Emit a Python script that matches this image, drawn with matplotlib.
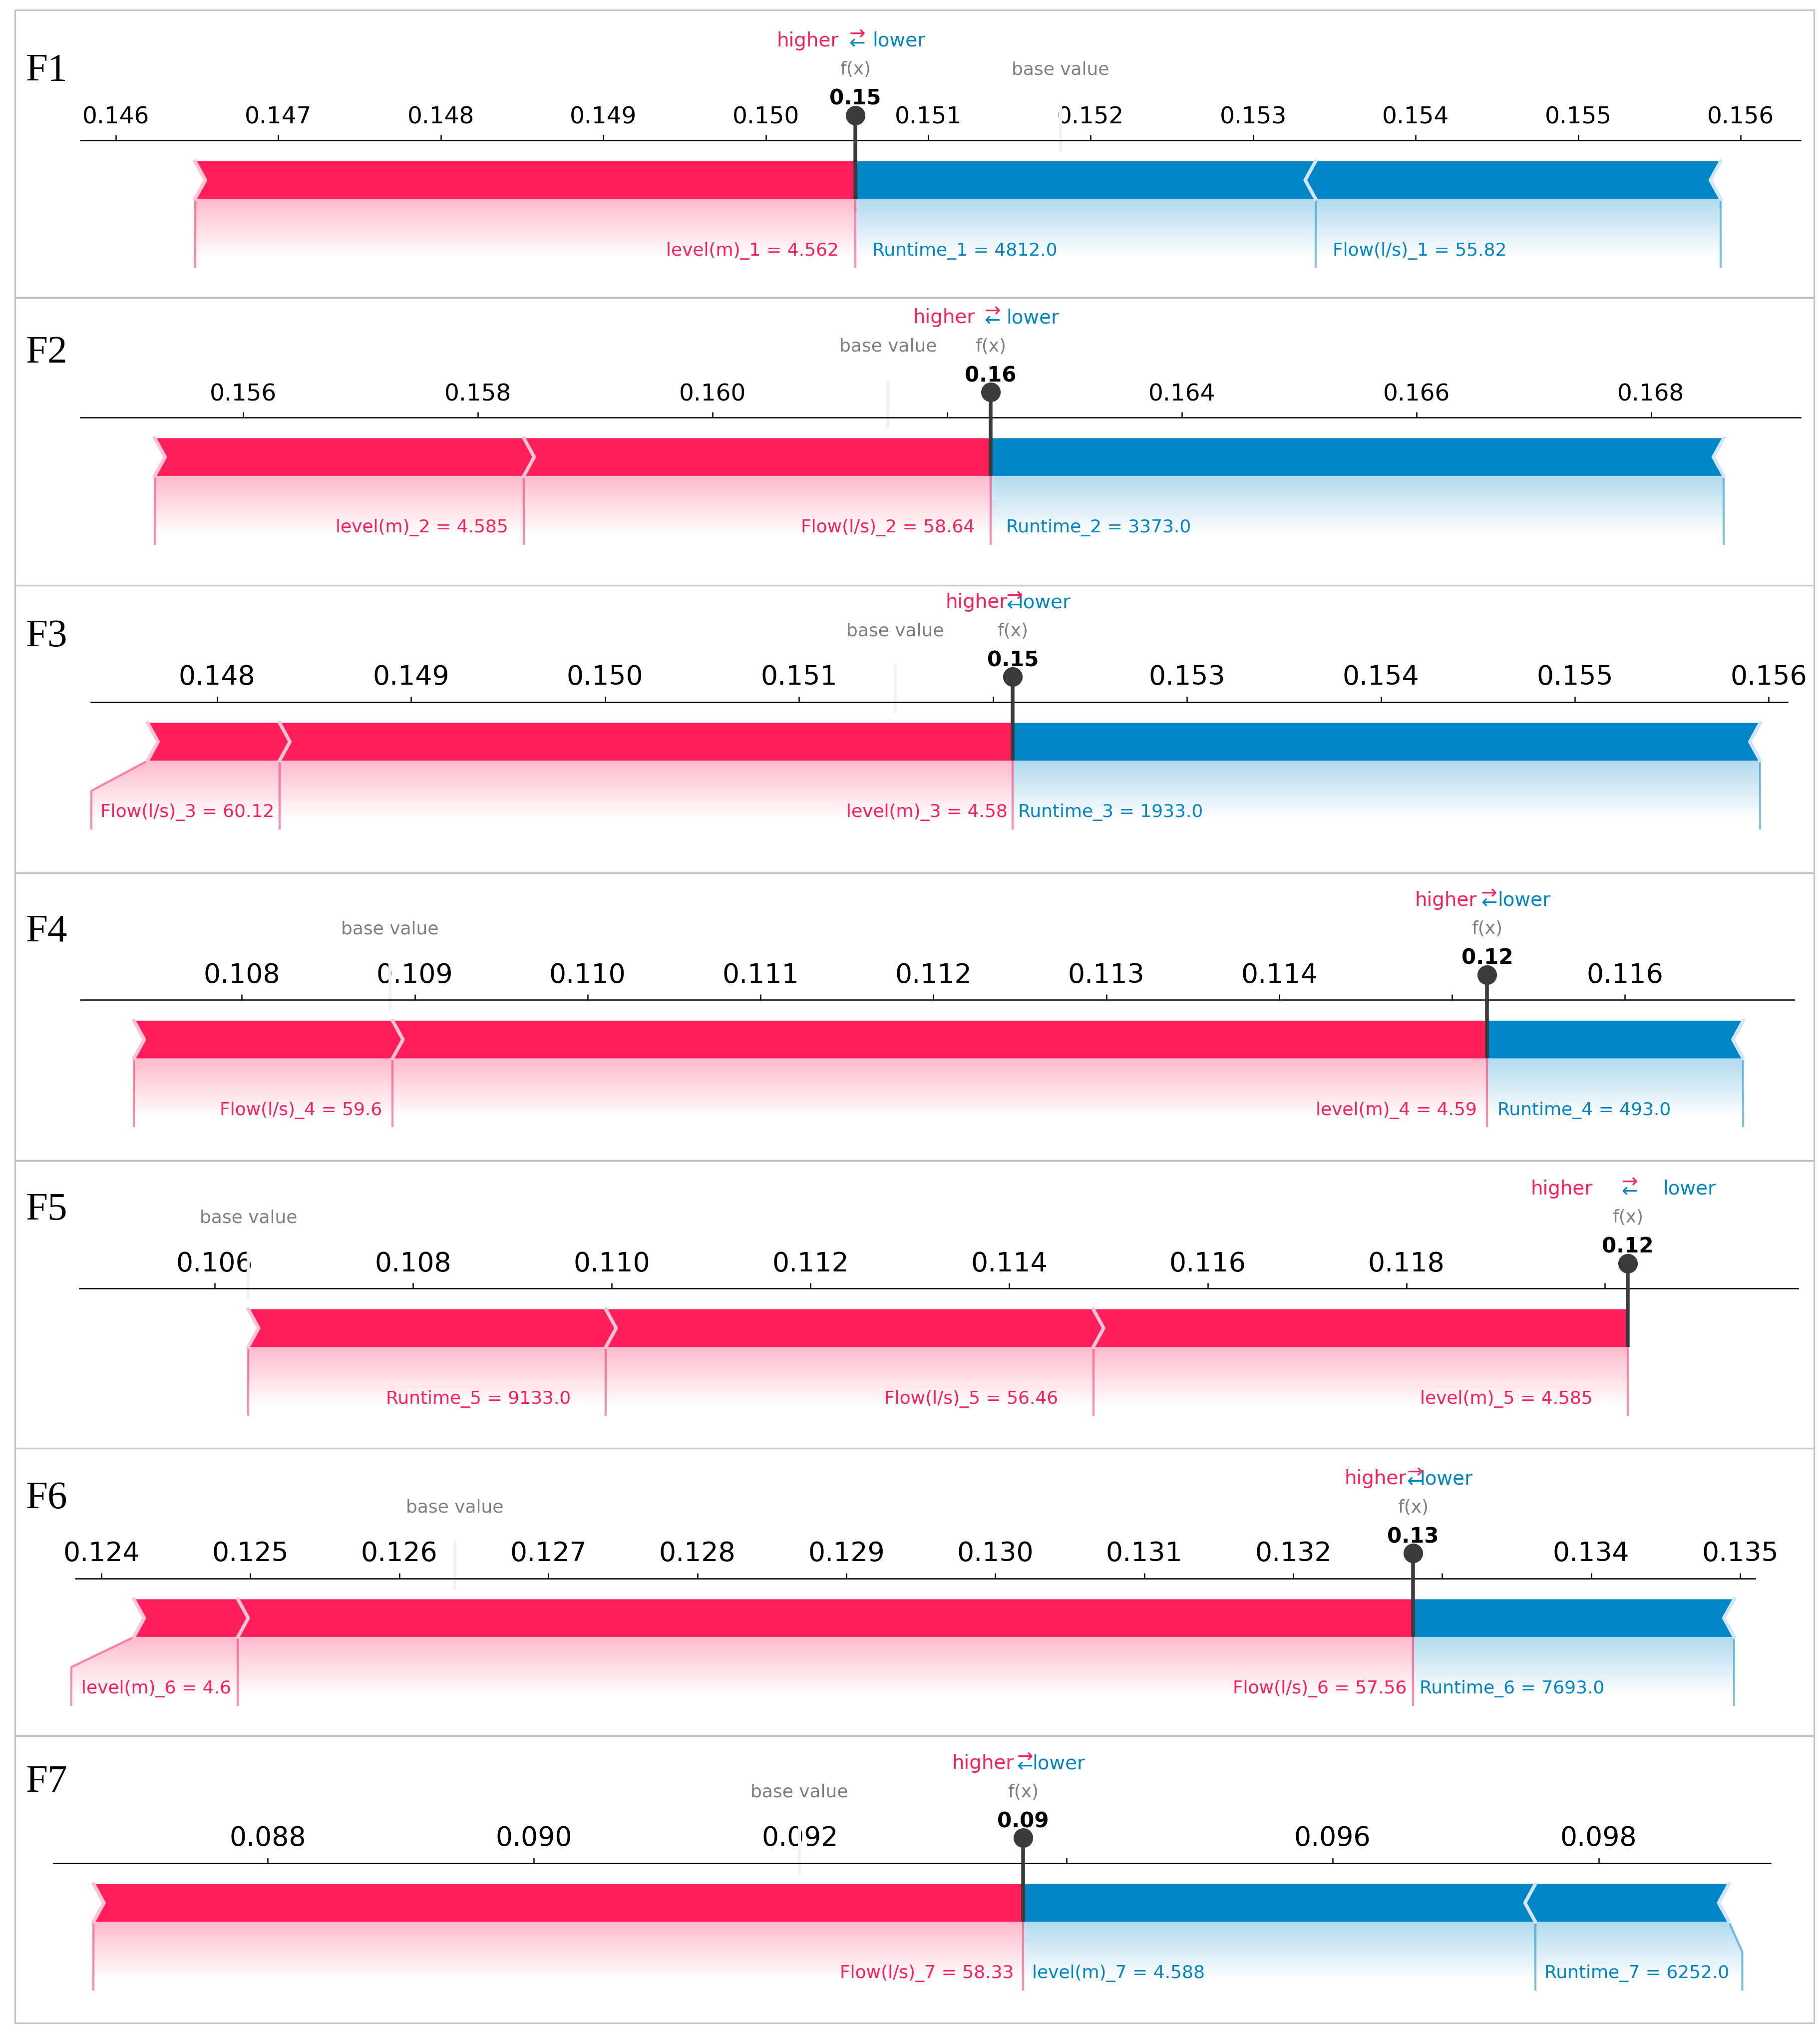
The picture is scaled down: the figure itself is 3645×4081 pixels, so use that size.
import numpy as np
import matplotlib
matplotlib.use("Agg")
import matplotlib.pyplot as plt
from matplotlib.patches import Polygon, PathPatch, Rectangle
from matplotlib.lines import Line2D
from matplotlib.path import Path
from matplotlib.colors import LinearSegmentedColormap

# ---- data ----
panel_names = ["F1", "F2", "F3", "F4", "F5", "F6", "F7"]
base_values = [0.151813, 0.161496, 0.151496, 0.108857, 0.106340, 0.126373, 0.091995]

feature_labels = ["level(m)", "Flow(l/s)", "Runtime"]
level_values = ["4.562", "4.585", "4.58", "4.59", "4.585", "4.6", "4.588"]
flow_values = ["55.82", "58.64", "60.12", "59.6", "56.46", "57.56", "58.33"]
runtime_values = ["4812.0", "3373.0", "1933.0", "493.0", "9133.0", "7693.0", "6252.0"]

shap_level = [0.004064, 0.003146, 0.003780, 0.006331, 0.005380, 0.000698, -0.003849]
shap_flow = [-0.002493, 0.003978, 0.000680, 0.001496, 0.004908, 0.007889, 0.006984]
shap_runtime = [-0.002832, -0.006249, -0.003854, -0.001481, 0.003600, -0.002155, -0.001455]

tick_step = [0.001, 0.002, 0.001, 0.001, 0.002, 0.001, 0.002]

# ---- layout (in units of a 1400 px wide page) ----
W_PX = 1400.0
H_PX = 4081 / (3645 / 1400)
PX_UNIT = 290.0
FRAME_L, FRAME_R, FRAME_T, PANEL_H = 11.5, 1395.5, 7.7, 221.2

tick_ref_px = [89, 187, 167, 186, 165, 78, 206]
tick_ref_val = [0.146, 0.156, 0.148, 0.108, 0.106, 0.124, 0.088]
px_per_val = [125000, 90250, 149200, 133000, 76400, 114600, 102375]
spine_px = [(62, 1385), (62, 1385), (70, 1375), (62, 1380), (61, 1383), (58, 1350), (41, 1362)]
bar_bottom = [145.3, 137.1, 134.9, 142.7, 143.5, 145.3, 143.1]
label_offset = [13, 12, 4, 8, 27, 5, 7]
tick_fs = [11.25, 11.25, 12.9, 12.9, 12.9, 12.9, 12.9]
tag_baseline = [62, 279, 497, 724, 938, 1160, 1378]

RED, BLUE = "#FF1E5A", "#0085C7"
RED_SEP, BLUE_SEP = "#FFC3D5", "#D1E6FA"
LABEL_FS = 8.65
BAR_W = 0.1

grad = np.repeat(np.linspace(-10, 10, 50)[:, None], 2, axis=1)

fig = plt.figure(figsize=(3645 / 300, 4081 / 300), dpi=300)
renderer = fig.canvas.get_renderer()


def draw_bars(ax, fx, feats, positive, indent):
    color, sep_color = (RED, RED_SEP) if positive else (BLUE, BLUE_SEP)
    ind = indent if positive else -indent
    pre = fx
    rects, seps = [], []
    for n, (s, _) in enumerate(feats):
        val = pre - s
        if positive:
            left, right, sep = val, pre, val
        else:
            left, right, sep = pre, val, val
        pre = val
        if n == 0:
            if positive:
                pts = [[left, 0], [right, 0], [right, BAR_W], [left, BAR_W], [left + ind, BAR_W / 2]]
            else:
                pts = [[right, 0], [left, 0], [left, BAR_W], [right, BAR_W], [right + ind, BAR_W / 2]]
        else:
            pts = [[left, 0], [right, 0], [right + ind * 0.9, BAR_W / 2], [right, BAR_W],
                   [left, BAR_W], [left + ind * 0.9, BAR_W / 2]]
        rects.append(Polygon(pts, closed=True, facecolor=color, linewidth=0, zorder=2))
        seps.append(Line2D([sep, sep + ind, sep], [0, BAR_W / 2, BAR_W], color=sep_color,
                           lw=1.7, zorder=2.2))
    for r in rects:
        ax.add_patch(r)
    for l in seps:
        ax.add_line(l)


def draw_labels(ax, fx, feats, positive, offset, pad):
    color = RED if positive else BLUE
    sign = 1 if positive else -1
    if positive:
        ax.add_line(Line2D([fx, fx], [0, -0.18], lw=1.0, alpha=0.5, color=color, clip_on=False))
    start = fx
    pre = fx
    box_end = fx
    for s, text in feats:
        val = pre - s
        t = ax.text(start - sign * offset, -0.15, text, fontsize=LABEL_FS, color=color,
                    ha="right" if positive else "left", va="baseline", zorder=3)
        ext = t.get_window_extent(renderer).transformed(ax.transData.inverted())
        edge = ext.x0 - pad if positive else ext.x1 + pad
        if sign * edge > sign * val:
            ax.add_line(Line2D([val, val], [0, -0.18], lw=1.0, alpha=0.5, color=color, clip_on=False))
            start = val
            box_end = val
        else:
            box_end = edge - sign * offset
            ax.add_line(Line2D([val, box_end, box_end], [0, -0.08, -0.18], lw=1.0, alpha=0.5,
                               color=color, clip_on=False))
            start = box_end
        pre = val

    path = Path([[fx, 0], [pre, 0], [box_end, -0.08], [box_end, -0.2], [fx, -0.2], [fx, 0]])
    patch = PathPatch(path, facecolor="none", edgecolor="none")
    ax.add_patch(patch)
    cm = LinearSegmentedColormap.from_list("cm", [color, "white"])
    im = ax.imshow(grad, cmap=cm, vmin=-10, vmax=0.01, alpha=0.3, origin="lower",
                   extent=[fx, box_end, 0, -0.31], aspect="auto", interpolation="bilinear", zorder=1)
    im.set_clip_path(patch)


for i in range(7):
    top = FRAME_T + i * PANEL_H
    ax = fig.add_axes([FRAME_L / W_PX, 1 - (top + PANEL_H) / H_PX,
                       (FRAME_R - FRAME_L) / W_PX, PANEL_H / H_PX])
    k = px_per_val[i]

    def px2v(px):
        return tick_ref_val[i] + (px - tick_ref_px[i]) / k

    ax.set_xlim(px2v(FRAME_L), px2v(FRAME_R))
    bb = bar_bottom[i]
    ax.set_ylim(-(PANEL_H - bb) / PX_UNIT, bb / PX_UNIT)
    ax.set_autoscale_on(False)
    ax.patch.set_visible(False)
    for s in ["left", "right", "bottom"]:
        ax.spines[s].set_visible(False)

    base = base_values[i]
    shaps = [shap_level[i], shap_flow[i], shap_runtime[i]]
    vals = [level_values[i], flow_values[i], runtime_values[i]]
    texts = [f"{feature_labels[j]}_{i + 1} = {vals[j]}" for j in range(3)]
    fx = base + sum(shaps)

    # axis on top
    lo, hi = px2v(spine_px[i][0]), px2v(spine_px[i][1])
    ax.spines["top"].set_position(("data", 0.155))
    ax.spines["top"].set_bounds(lo, hi)
    ax.spines["top"].set_linewidth(0.6)
    step = tick_step[i]
    ticks = np.round(np.arange(np.ceil(lo / step - 1e-9) * step, hi + 1e-12, step), 6)
    tlabels = ["" if abs(t - fx) < 0.3 * step else f"{t:.3f}" for t in ticks]
    ax.set_xticks(ticks, tlabels)
    ax.set_yticks([])
    ax.tick_params(axis="x", top=True, bottom=False, labeltop=True, labelbottom=False,
                   length=2.7, width=0.6, pad=3, labelsize=tick_fs[i], direction="out")

    pos = sorted([(s, t) for s, t in zip(shaps, texts) if s > 0], key=lambda x: -x[0])
    neg = sorted([(s, t) for s, t in zip(shaps, texts) if s < 0], key=lambda x: x[0])

    indent = 8 / k
    offset = label_offset[i] / k
    pad = 3 / k
    draw_bars(ax, fx, neg, False, indent)
    draw_bars(ax, fx, pos, True, indent)
    draw_labels(ax, fx, neg, False, offset, pad)
    draw_labels(ax, fx, pos, True, offset, pad)

    # higher / lower legend
    ax.text(fx - offset, 0.405, "higher", fontsize=9.3, color=RED, ha="right")
    ax.text(fx + offset, 0.405, "lower", fontsize=9.3, color=BLUE, ha="left")
    ax.text(fx, 0.4, r"$\leftarrow$", fontsize=9.3, color=BLUE, ha="center")
    ax.text(fx, 0.425, r"$\rightarrow$", fontsize=9.3, color=RED, ha="center")

    # base value
    ax.add_line(Line2D([base, base], [0.13, 0.25], lw=1.5, color="#F2F2F2", clip_on=False, zorder=2))
    t = ax.text(base, 0.33, "base value", fontsize=LABEL_FS, alpha=0.5, ha="center", zorder=3)
    t.set_bbox(dict(facecolor="white", edgecolor="white"))

    # output value
    t = ax.text(fx, 0.25, f"{fx:.2f}", fontsize=10.1, fontweight="bold", ha="center", zorder=3)
    t.set_bbox(dict(facecolor="white", edgecolor="white"))
    t = ax.text(fx, 0.33, "f(x)", fontsize=LABEL_FS, alpha=0.5, ha="center", zorder=3)
    t.set_bbox(dict(facecolor="white", edgecolor="white"))
    ax.plot([fx, fx], [0, 0.222], color="#3B3B3B", lw=1.8, zorder=6, clip_on=False,
            solid_capstyle="butt")
    ax.plot([fx], [0.222], marker="o", ms=8.4, color="#3B3B3B", zorder=6, clip_on=False)

    # panel frame and tag
    fig.add_artist(Rectangle((FRAME_L / W_PX, 1 - (top + PANEL_H) / H_PX),
                             (FRAME_R - FRAME_L) / W_PX, PANEL_H / H_PX,
                             transform=fig.transFigure, fill=False, edgecolor="#C4C4C4", lw=0.8))
    fig.text(20 / W_PX, 1 - tag_baseline[i] / H_PX, panel_names[i], fontsize=19,
             family="Liberation Serif", va="baseline", ha="left")

fig.savefig("out.png", dpi=300)
